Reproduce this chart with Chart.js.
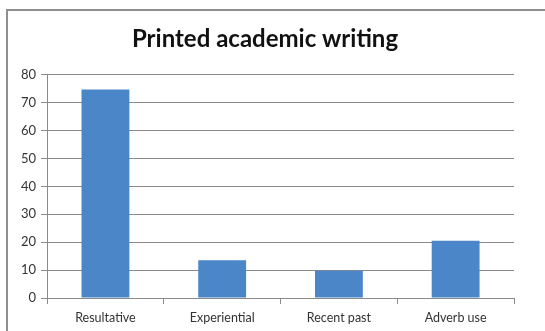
<!DOCTYPE html>
<html>
<head>
<meta charset="utf-8">
<script src="https://cdn.jsdelivr.net/npm/chart.js@4"></script>
<style>
  html, body { margin: 0; padding: 0; background: #fff; overflow: hidden; }
  #frame { position: absolute; left: 6px; top: 9px; width: 560px; height: 340px; border: 2px solid #8f8f8f; }
  #wrap { position: absolute; left: 0; top: 0; width: 545px; height: 331px; }
</style>
</head>
<body>
<div id="frame"></div>
<div id="wrap"><canvas id="chart" width="545" height="331"></canvas></div>
<script>
const categories = ['Resultative', 'Experiential', 'Recent past', 'Adverb use'];
const values = [74.7, 13.5, 9.8, 20.5];
const yTicks = [0, 10, 20, 30, 40, 50, 60, 70, 80];

const ctx = document.getElementById('chart').getContext('2d');
new Chart(ctx, {
  type: 'bar',
  data: {
    labels: categories,
    datasets: [{
      label: 'Printed academic writing',
      data: values,
      backgroundColor: '#4a86c8',
      borderWidth: 0,
      categoryPercentage: 0.41,
      barPercentage: 1.0
    }]
  },
  options: {
    responsive: false,
    animation: false,
    layout: { padding: { left: 16, right: 31, top: 14, bottom: 0 } },
    plugins: {
      legend: { display: false },
      tooltip: { enabled: false },
      title: {
        display: true,
        text: 'Printed academic writing',
        color: '#111',
        font: { family: 'Lato', size: 24, weight: 'bold' },
        padding: { top: 11, bottom: 21 }
      }
    },
    scales: {
      x: {
        grid: { offset: true, drawOnChartArea: false, color: '#8a8a8a', tickLength: 6 },
        border: { color: '#8a8a8a' },
        ticks: { color: '#333', font: { family: 'Lato', size: 12.5 }, padding: 6 }
      },
      y: {
        min: 0,
        max: 80,
        afterBuildTicks: axis => { axis.ticks = yTicks.map(v => ({ value: v })); },
        grid: { color: '#8a8a8a', tickLength: 6 },
        border: { color: '#8a8a8a' },
        ticks: { color: '#333', font: { family: 'Lato', size: 13 }, padding: 5 }
      }
    }
  }
});
</script>
</body>
</html>
